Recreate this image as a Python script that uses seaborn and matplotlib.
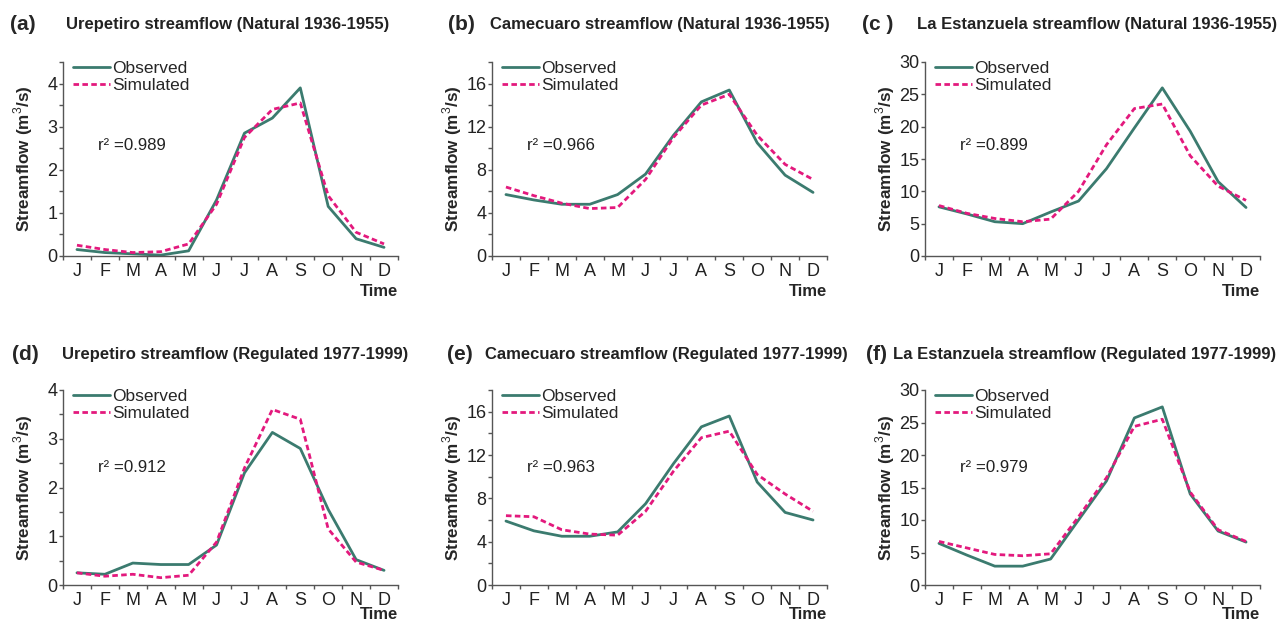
#!/usr/bin/env python3
"""Observed vs simulated monthly streamflow, six panels."""

import matplotlib
matplotlib.use("Agg")
import matplotlib.pyplot as plt
from matplotlib.ticker import MultipleLocator, FixedLocator
import pandas as pd
import seaborn as sns

months = ["J", "F", "M", "A", "M", "J", "J", "A", "S", "O", "N", "D"]

panel_labels = ["(a)", "(b)", "(c )", "(d)", "(e)", "(f)"]
titles = [
    "Urepetiro streamflow (Natural 1936-1955)",
    "Camecuaro streamflow (Natural 1936-1955)",
    "La Estanzuela streamflow (Natural 1936-1955)",
    "Urepetiro streamflow (Regulated 1977-1999)",
    "Camecuaro streamflow (Regulated 1977-1999)",
    "La Estanzuela streamflow (Regulated 1977-1999)",
]
r2_values = ["0.989", "0.966", "0.899", "0.912", "0.963", "0.979"]

obs_a = [0.15, 0.08, 0.05, 0.02, 0.12, 1.3, 2.85, 3.2, 3.9, 1.15, 0.4, 0.2]
sim_a = [0.25, 0.15, 0.08, 0.1, 0.28, 1.2, 2.75, 3.4, 3.55, 1.4, 0.55, 0.28]
obs_b = [5.7, 5.2, 4.8, 4.8, 5.7, 7.6, 11.2, 14.3, 15.4, 10.5, 7.5, 5.9]
sim_b = [6.4, 5.6, 4.9, 4.4, 4.5, 7.1, 11.0, 14.0, 15.0, 11.2, 8.5, 7.1]
obs_c = [7.6, 6.5, 5.3, 5.0, 6.8, 8.5, 13.5, 19.8, 26.0, 19.3, 11.5, 7.5]
sim_c = [7.8, 6.6, 5.8, 5.3, 5.7, 10.0, 17.2, 22.8, 23.5, 15.5, 10.8, 8.6]
obs_d = [0.25, 0.22, 0.45, 0.42, 0.42, 0.82, 2.3, 3.13, 2.8, 1.55, 0.52, 0.3]
sim_d = [0.25, 0.18, 0.22, 0.15, 0.2, 0.88, 2.4, 3.6, 3.4, 1.15, 0.47, 0.3]
obs_e = [5.9, 5.0, 4.5, 4.5, 4.9, 7.5, 11.2, 14.6, 15.6, 9.5, 6.7, 6.0]
sim_e = [6.4, 6.3, 5.1, 4.7, 4.6, 6.8, 10.5, 13.6, 14.2, 10.2, 8.4, 6.8]
obs_f = [6.4, 4.6, 2.9, 2.9, 4.0, 10.0, 16.0, 25.7, 27.4, 14.0, 8.3, 6.6]
sim_f = [6.7, 5.7, 4.7, 4.5, 4.8, 10.5, 16.5, 24.4, 25.5, 14.3, 8.5, 6.7]

observed = [obs_a, obs_b, obs_c, obs_d, obs_e, obs_f]
simulated = [sim_a, sim_b, sim_c, sim_d, sim_e, sim_f]

y_max = [4.5, 18, 30, 4, 18, 30]
y_major = [1, 4, 5, 1, 4, 5]
y_minor = [0.5, 2, 5, 0.5, 2, 5]

OBS_COLOR = "#3b7b6f"
SIM_COLOR = "#e3197d"
AXIS_COLOR = "#555555"
TEXT_COLOR = "#222222"

sns.set_theme(style="ticks")
plt.rcParams["font.family"] = ["Liberation Sans", "DejaVu Sans"]
plt.rcParams["mathtext.fontset"] = "custom"
plt.rcParams["mathtext.rm"] = "Liberation Sans"
plt.rcParams["mathtext.bf"] = "Liberation Sans:bold"

fig = plt.figure(figsize=(12.81, 6.24), dpi=100)

# axes boxes in pixel coords (left, right) and (top, bottom)
W, H = 1281, 624
col_x = [(63, 398), (492, 827), (925, 1260)]
row_y = [(62, 256), (390, 585)]
# header positions (pixels): panel letter x, title x
label_px = [10, 448, 862, 12, 447, 866]
title_px = [66, 490, 917, 62, 485, 893]

for i in range(6):
    r, c = divmod(i, 3)
    x0, x1 = col_x[c]
    yt, yb = row_y[r]
    ax = fig.add_axes([x0 / W, 1 - yb / H, (x1 - x0) / W, (yb - yt) / H])

    df = pd.DataFrame({
        "pos": list(range(12)) * 2,
        "flow": observed[i] + simulated[i],
        "series": ["Observed"] * 12 + ["Simulated"] * 12,
    })
    sns.lineplot(data=df[df.series == "Observed"], x="pos", y="flow", ax=ax,
                 color=OBS_COLOR, lw=2.0, label="Observed")
    sns.lineplot(data=df[df.series == "Simulated"], x="pos", y="flow", ax=ax,
                 color=SIM_COLOR, lw=2.0, ls=(0, (2, 1.2)), label="Simulated")

    ax.set_xlim(-0.5, 11.5)
    ax.set_ylim(0, y_max[i])
    ax.xaxis.set_major_locator(FixedLocator(range(12)))
    ax.set_xticklabels(months)
    ax.xaxis.set_minor_locator(FixedLocator([k + 0.5 for k in range(-1, 12)]))
    ax.tick_params(axis="x", which="major", length=0, pad=5, labelsize=13, colors=TEXT_COLOR)
    ax.tick_params(axis="x", which="minor", length=3, width=1, color=AXIS_COLOR)
    ax.yaxis.set_major_locator(MultipleLocator(y_major[i]))
    ax.yaxis.set_minor_locator(MultipleLocator(y_minor[i]))
    ax.tick_params(axis="y", which="both", length=3, width=1, color=AXIS_COLOR,
                   labelsize=13, pad=1, labelcolor=TEXT_COLOR)
    for side in ["top", "right"]:
        ax.spines[side].set_visible(False)
    for side in ["left", "bottom"]:
        ax.spines[side].set_color(AXIS_COLOR)
        ax.spines[side].set_linewidth(1.0)

    ax.set_xlabel("")
    ax.set_ylabel(r"Streamflow (m$^3$/s)", fontsize=12.3, fontweight="bold")
    ax.yaxis.set_label_coords(-28 / (x1 - x0), 0.5)
    ax.text(1.0, -0.185 if r == 0 else -0.15, "Time", transform=ax.transAxes,
            ha="right", va="center", fontsize=12, fontweight="bold")
    ax.text(0.105, 0.57 if r == 0 else 0.60, "r\u00b2 =" + r2_values[i], transform=ax.transAxes,
            ha="left", va="center", fontsize=12.2, color=TEXT_COLOR)

    ax.legend(loc="upper left", bbox_to_anchor=(0.0, 1.06), frameon=False,
              fontsize=12.5, handlelength=2.1, handletextpad=0.15,
              labelspacing=0.1, borderaxespad=0.2)

    title_y = 1 - (25 if r == 0 else 355) / H
    fig.text(label_px[i] / W, title_y, panel_labels[i], fontsize=15, fontweight="bold",
             ha="left", va="center")
    fig.text(title_px[i] / W, title_y, titles[i], fontsize=12, fontweight="bold",
             ha="left", va="center", color=TEXT_COLOR)

fig.savefig("out.png", dpi=100)
